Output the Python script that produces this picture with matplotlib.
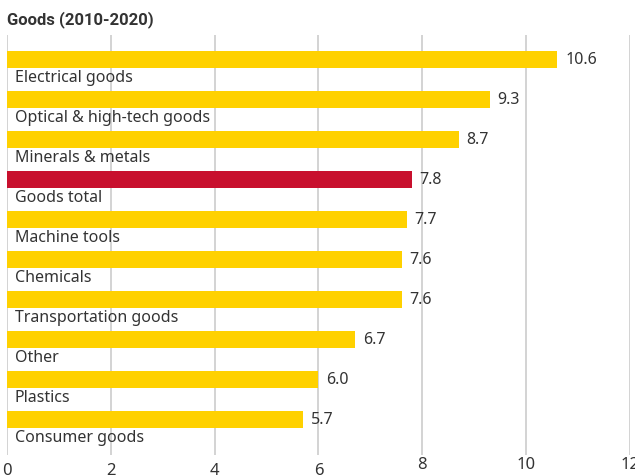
import matplotlib
matplotlib.use("Agg")
import matplotlib.pyplot as plt
import matplotlib.transforms as mtransforms

categories = ["Electrical goods", "Optical & high-tech goods", "Minerals & metals",
              "Goods total", "Machine tools", "Chemicals", "Transportation goods",
              "Other", "Plastics", "Consumer goods"]
values = [10.6, 9.3, 8.7, 7.8, 7.7, 7.6, 7.6, 6.7, 6.0, 5.7]
highlight = "Goods total"
xticks = [0, 2, 4, 6, 8, 10, 12]

plt.rcParams['font.family'] = ['Noto Sans', 'DejaVu Sans']
txt = '#333333'
yellow = '#FFD100'
red = '#C8102E'

fig = plt.figure(figsize=(6.35, 4.76), dpi=100)
ax = fig.add_axes([7/635, 1 - 455/476, 623/635, 420/476])

ypos = list(range(len(categories)))
colors = [red if c == highlight else yellow for c in categories]
ax.barh(ypos, values, height=0.43, color=colors, zorder=2)

for y, c, v in zip(ypos, categories, values):
    ax.text(0.15, y + 0.47, c, fontsize=11.5, color=txt, va='center', ha='left', zorder=3)
    ax.text(v + 0.15, y + 0.02, f"{v:.1f}", fontsize=11.5, color=txt, va='center', ha='left', zorder=3)

ax.set_xlim(0, 12)
ax.set_ylim(9.8875, -0.6125)
ax.set_xticks(xticks)
ax.set_xticklabels([str(t) for t in xticks])
ax.set_yticks([])
ax.grid(axis='x', color='#d0d0d0', linewidth=1.3, zorder=0)
for s in ax.spines.values():
    s.set_visible(False)
ax.tick_params(axis='x', length=0, pad=6, labelsize=12, labelcolor=txt)

# last three labels sit a little higher
for lab in ax.get_xticklabels()[4:]:
    lab.set_transform(lab.get_transform() + mtransforms.ScaledTranslation(0, 6/100, fig.dpi_scale_trans))

fig.text(7/635, 1 - 20/476, "Goods (2010-2020)", fontsize=12, fontweight='bold',
         family=['Roboto', 'DejaVu Sans'], color=txt, va='center', ha='left')

fig.savefig("out.png", dpi=100)
